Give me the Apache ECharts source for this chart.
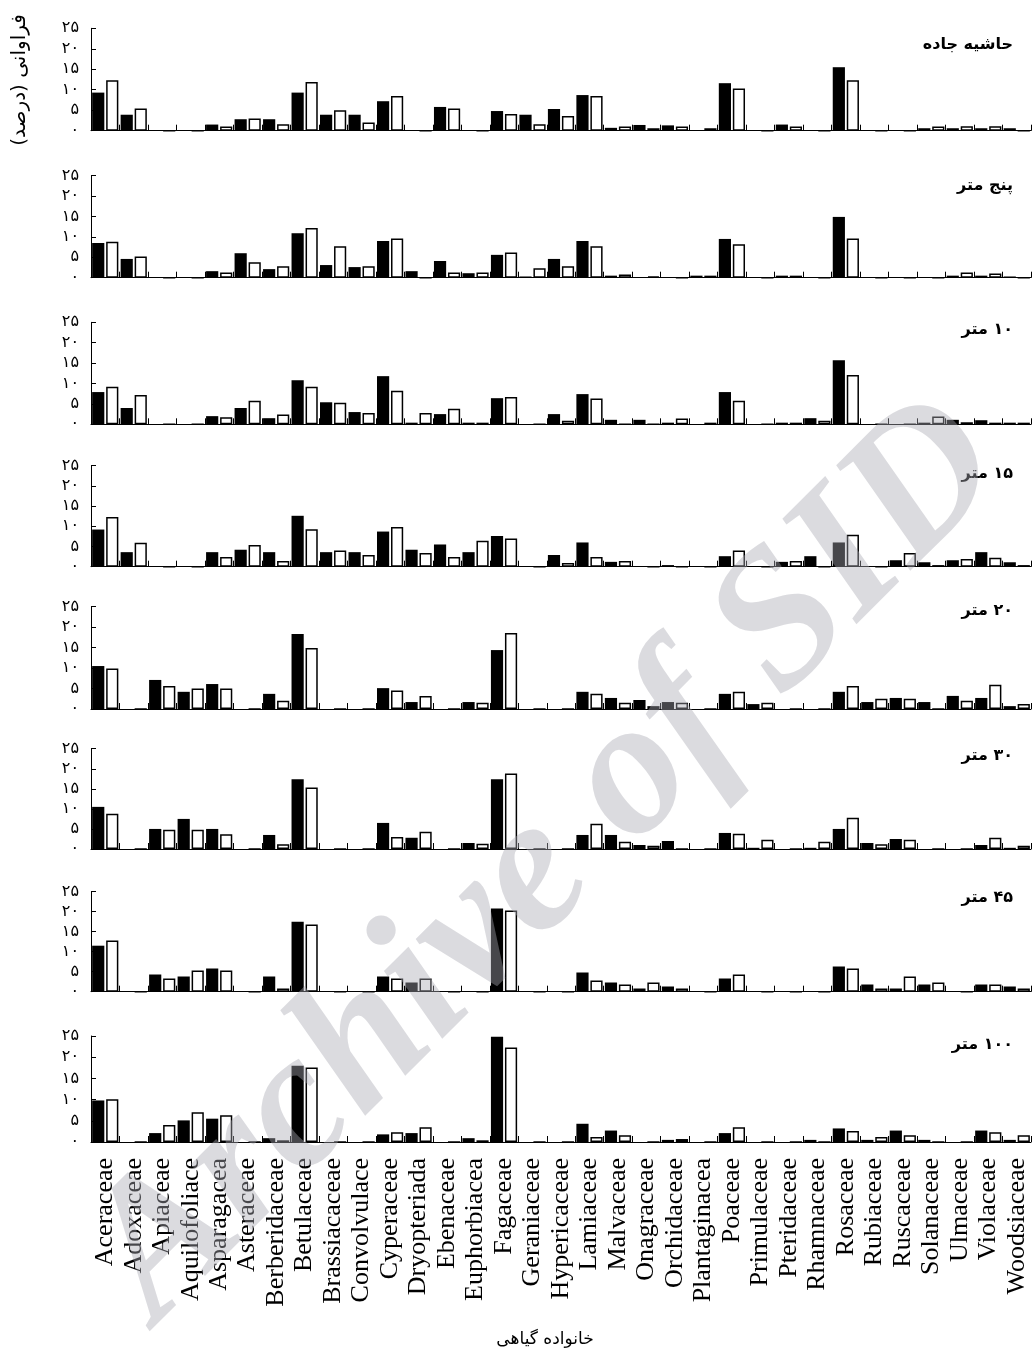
<!DOCTYPE html>
<html>
<head>
<meta charset="utf-8">
<script src="https://cdn.jsdelivr.net/npm/echarts@6/dist/echarts.min.js"></script>
<style>
html,body{margin:0;padding:0;background:#fff;}
#chart{width:1032px;height:1363px;}
</style>
</head>
<body>
<div id="chart"></div>
<script>
// ---------------- DATA ----------------
const categories = ['Aceraceae','Adoxaceae','Apiaceae','Aquilofoliace','Asparagacea','Asteraceae','Berberidaceae','Betulaceae','Brassiacaceae','Convolvulace','Cyperaceae','Dryopteriada','Ebenaceae','Euphorbiacea','Fagaceae','Geraniaceae','Hypericaceae','Lamiaceae','Malvaceae','Onagraceae','Orchidaceae','Plantaginacea','Poaceae','Primulaceae','Pteridaceae','Rhamnaceae','Rosaceae','Rubiaceae','Ruscaceae','Solanaceae','Ulmaceae','Violaceae','Woodsiaceae'];
const yTickLabels = ['۰','۵','۱۰','۱۵','۲۰','۲۵'];
const panelTitles = ['حاشیه جاده','پنج متر','۱۰ متر','۱۵ متر','۲۰ متر','۳۰ متر','۴۵ متر','۱۰۰ متر'];
const yAxisTitle = 'فراوانی (درصد)';
const xAxisTitle = 'خانواده گیاهی';

const roadsideBlack = [9.3,3.9,0,0,1.5,2.8,2.8,9.3,3.9,3.9,7.2,0,5.8,0,4.8,3.9,5.3,8.7,0.7,1.4,1.3,0,11.6,0,1.5,0,15.5,0,0,0.6,0.6,0.6,0.6];
const roadsideWhite = [12.3,5.4,0,0,1.0,3.0,1.6,11.9,5.0,2.0,8.5,0,5.4,0,4.1,1.6,3.6,8.5,1.0,0.6,1.0,0.6,10.3,0,1.0,0,12.3,0,0,1.0,1.1,1.1,0];
const m5Black = [8.5,4.6,0,0,1.6,6.0,2.1,10.9,3.1,2.6,9.0,1.6,4.1,1.1,5.6,0.3,4.6,9.0,0.5,0,0,0.5,9.5,0,0.5,0,14.9,0,0,0,0.5,0.5,0.3];
const m5White = [8.8,5.2,0,0,1.3,3.8,2.8,12.2,7.7,2.8,9.6,0,1.3,1.3,6.2,2.3,2.8,7.7,0.8,0.3,0,0.5,8.2,0,0.5,0,9.6,0,0,0,1.3,1.0,0];
const m10Black = [7.9,4.0,0,0,2.0,4.0,1.5,10.8,5.4,3.0,11.8,0.4,2.5,0.4,6.4,0,2.5,7.4,1.1,1.1,0.4,0,7.9,0,0.4,1.5,15.7,0,0,0.4,1.1,1.0,0.4];
const m10White = [9.2,7.2,0,0,1.7,5.8,2.4,9.2,5.3,2.8,8.2,2.8,3.8,0.4,6.7,0,0.9,6.3,0,0,1.4,0.4,5.8,0,0.4,0.9,12.1,0,0,1.9,0.5,0.4,0.4];
const m15Black = [9.2,3.6,0,0,3.6,4.2,3.6,12.6,3.6,3.6,8.7,4.2,5.5,3.6,7.6,0,2.9,6.0,1.2,0,0.4,0,2.6,0,1.2,2.6,6.0,0,1.6,1.1,1.6,3.6,1.1];
const m15White = [12.3,5.9,0,0,2.4,5.4,1.4,9.3,4.0,2.9,9.8,3.4,2.4,6.4,7.0,0,0.9,2.4,1.4,0,0,0,4.0,0,1.4,0,7.9,0,3.4,0.4,1.9,2.2,0.4];
const m20Black = [10.5,0,7.1,4.2,6.1,0,3.7,18.3,0,0,5.1,1.7,0,1.7,14.4,0,0,4.2,2.7,2.2,1.7,0,3.7,1.2,0,0,4.2,1.7,2.7,1.7,3.2,2.7,0.7];
const m20White = [9.9,0,5.6,5.0,5.0,0,2.0,14.9,0,0,4.5,3.2,0,1.5,18.6,0,0,3.7,1.5,0.7,1.5,0,4.2,1.5,0,0,5.6,2.5,2.5,0,2.0,5.9,1.2];
const m30Black = [10.5,0,5.0,7.5,5.0,0,3.5,17.4,0,0,6.5,2.8,0,1.5,17.4,0,0,3.5,3.5,1.0,2.0,0,4.0,0.3,0,0.3,5.0,1.5,2.5,0,0,1.0,0.3];
const m30White = [8.8,0,4.8,4.8,3.7,0,1.2,15.3,0,0,3.0,4.3,0,1.3,18.8,0,0,6.3,1.8,0.8,0,0,3.8,2.3,0,1.8,7.8,1.2,2.3,0,0,2.8,0.8];
const m45Black = [11.5,0,4.3,3.8,5.8,0,3.8,17.5,0,0,3.8,2.3,0,0,20.8,0,0,4.8,2.3,0.8,1.3,0,3.3,0,0,0,6.3,1.8,0.8,1.8,0,1.8,1.3];
const m45White = [12.8,0,3.3,5.3,5.3,0,0.8,16.8,0,0,3.3,3.3,0,0,20.3,0,0,2.8,1.8,2.3,0.8,0,4.3,0,0,0,5.8,0.8,3.8,2.3,0,1.8,0.8];
const m100Black = [9.8,0,2.1,5.1,5.5,0,0.9,18.0,0,0,1.8,2.1,0,0.9,24.8,0,0,4.3,2.7,0,0.5,0,2.1,0,0,0.5,3.2,0.5,2.7,0.5,0,2.7,0.5];
const m100White = [10.1,0,4.0,7.0,6.3,0,0.4,17.6,0,0,2.3,3.5,0,0.4,22.3,0,0,1.2,1.6,0,0.7,0,3.5,0,0,0,2.6,1.2,1.6,0,0,2.3,1.6];

const blackSeries = [roadsideBlack,m5Black,m10Black,m15Black,m20Black,m30Black,m45Black,m100Black];
const whiteSeries = [roadsideWhite,m5White,m10White,m15White,m20White,m30White,m45White,m100White];

// ---------------- LAYOUT ----------------
const panelTops = [28.3,175.7,322.3,465.7,606.7,748.7,891.7,1036];
const panelHeights = [102.4,102,102,101,102.3,100.3,100,106];
const titleY = [45,186,330,474,611,756,898,1045];

const grid=[], xAxis=[], yAxis=[], series=[], graphic=[];
const persianFont = '"DejaVu Sans", "Noto Sans", sans-serif';
const titleFont = 'bold 16px '+persianFont;
// right-to-left title: the leading number is drawn at the right end, the word at the left
function titleText(t){
  const parts = t.split(' ');
  if (/^[۰-۹]+$/.test(parts[0])) return '{n|'+parts.slice(1).join(' ')+'}{s| }{n|'+parts[0]+'}';
  return t;
}
for (let i=0;i<8;i++){
  grid.push({left:91, width:940, top:panelTops[i], height:panelHeights[i], containLabel:false});
  xAxis.push({
    type:'category', gridIndex:i, data:categories, boundaryGap:true,
    axisLine:{show:true, lineStyle:{color:'#000', width:1}},
    axisTick:{show:true, inside:true, length:6, interval:0, alignWithLabel:false, lineStyle:{color:'#000', width:1}},
    axisLabel: i===7 ? {show:true, interval:0, rotate:90, fontFamily:'"Liberation Serif", "Times New Roman", serif', fontSize:26, color:'#000', margin:16} : {show:false},
    splitLine:{show:false}
  });
  yAxis.push({
    type:'value', gridIndex:i, min:0, max:25, interval:5,
    axisLine:{show:true, lineStyle:{color:'#000', width:1}},
    axisTick:{show:true, inside:true, length:5, lineStyle:{color:'#000', width:1}},
    axisLabel:{show:true, color:'#000', fontSize:16, fontFamily:persianFont, margin:12,
      formatter:(v)=>yTickLabels[Math.round(v/5)]},
    splitLine:{show:false}
  });
  series.push({
    type:'bar', xAxisIndex:i, yAxisIndex:i, data:blackSeries[i],
    barGap:'15%', barCategoryGap:'8%',
    itemStyle:{color:'#000'}
  });
  series.push({
    type:'bar', xAxisIndex:i, yAxisIndex:i, data:whiteSeries[i],
    barGap:'15%', barCategoryGap:'8%',
    itemStyle:{color:'#fff', borderColor:'#000', borderWidth:1.5}
  });
  graphic.push({type:'text', x:1013, y:titleY[i], z:50,
    style:{text:titleText(panelTitles[i]), font:titleFont, fill:'#000', align:'right', verticalAlign:'middle',
      rich:{n:{font:titleFont, fill:'#000'}, s:{font:titleFont, fill:'#000'}}}});
}
graphic.push({type:'text', x:20, y:80, rotation:Math.PI/2, z:50,
  style:{text:yAxisTitle+'\u200F', font:'20px '+persianFont, fill:'#000', align:'center', verticalAlign:'middle'}});
graphic.push({type:'text', x:545, y:1340, z:50,
  style:{text:xAxisTitle, font:'17px '+persianFont, fill:'#000', align:'center', verticalAlign:'middle'}});
// watermark
graphic.push({type:'text', x:548, y:862, rotation:Math.PI/4, z:200,
  style:{text:'Archive of SID', font:'italic bold 194px "Liberation Serif", serif', fill:'rgba(170,170,178,0.42)', align:'center', verticalAlign:'middle'}});

const chart = echarts.init(document.getElementById('chart'), null, {renderer:'canvas'});
chart.setOption({animation:false, backgroundColor:'#fff', grid, xAxis, yAxis, series, graphic});
</script>
</body>
</html>
